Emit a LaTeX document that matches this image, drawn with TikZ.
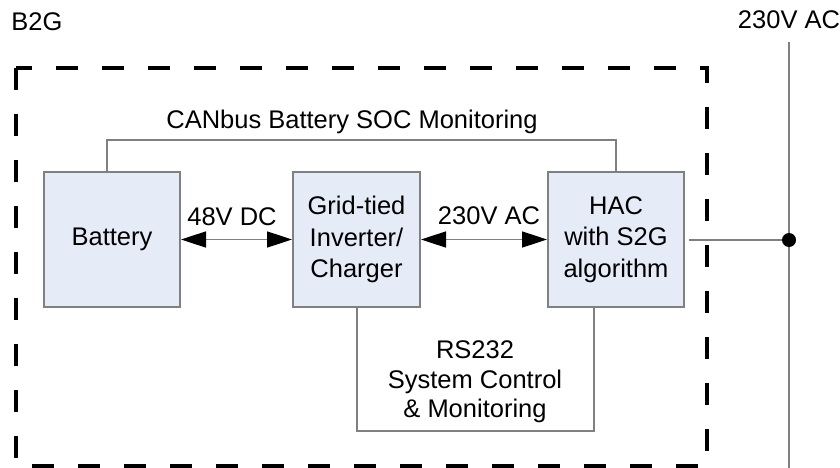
\documentclass[tikz,border=0pt]{standalone}
\usepackage{fontspec}
\setmainfont{Liberation Sans}
\usepackage{xcolor}
\usetikzlibrary{positioning,shapes,arrows.meta}
\definecolor{boxfill}{HTML}{E6ECF7}
\definecolor{linegray}{HTML}{808080}

\begin{document}
\begin{tikzpicture}[x=1pt,y=-1pt,
  box/.style={draw=linegray,line width=2pt,fill=boxfill,minimum width=136pt,minimum height=135pt,align=center,inner sep=0pt},
  wire/.style={draw=linegray,line width=1.6pt},
  biarrow/.style={wire,{Triangle[length=25pt,width=16pt,fill=black,color=black]}-{Triangle[length=25pt,width=16pt,fill=black,color=black]}},
  lbl/.style={align=center,inner sep=0pt}]
\useasboundingbox (0,0) rectangle (840,468);
\fontsize{25.5}{30}\selectfont
      \draw node (b2g) at (37,22) [lbl]{B2G};
      \draw node (acmain) at (789,20) [lbl]{230V AC};
%      \draw[dashed] B2G border
\draw[line width=4pt,dash pattern=on 22pt off 24pt] (16,68) rectangle (707,466);

\draw node (bat) at (112,239.5) [box]{Battery};
\draw node (inv) at (356.5,239.5) [box,minimum width=127pt]{Grid-tied\\[1.5pt]Inverter/\\[1.5pt]Charger};
\draw node (hac) at (616,239.5) [box]{HAC\\[1.5pt]with S2G\\[1.5pt]algorithm};

\draw node (can) at (352,122) [lbl]{CANbus Battery SOC Monitoring};
\draw node (dc) at (232,217) [lbl]{48V DC};
\draw node (ac) at (489,216) [lbl]{230V AC};
\draw node (rs) at (475,382) [lbl]{RS232\\[-0.5pt]System Control\\[-0.5pt]\& Monitoring};

\coordinate (cantop1) at (107,140);
\coordinate (cantop2) at (616,140);
\coordinate (rsbot1) at (357,431);
\coordinate (rsbot2) at (594,431);
\coordinate (gridtop) at (789,42);
\coordinate (gridbot) at (789,468);
\coordinate (tap) at (789,240);

\draw[biarrow] (bat.east) -- (inv.west);
\draw[biarrow] (inv.east) -- (hac.west);
\draw[wire] (bat.north -| cantop1) -- (cantop1) -- (cantop2) -- (hac.north);
\draw[wire] (inv.south -| rsbot1) -- (rsbot1) -- (rsbot2) -- (hac.south -| rsbot2);
\draw[wire] (gridtop) -- (gridbot);
\draw[wire] ([xshift=4pt]hac.east |- tap) -- (tap);
\fill (tap) circle (7pt);
\end{tikzpicture}
\end{document}
